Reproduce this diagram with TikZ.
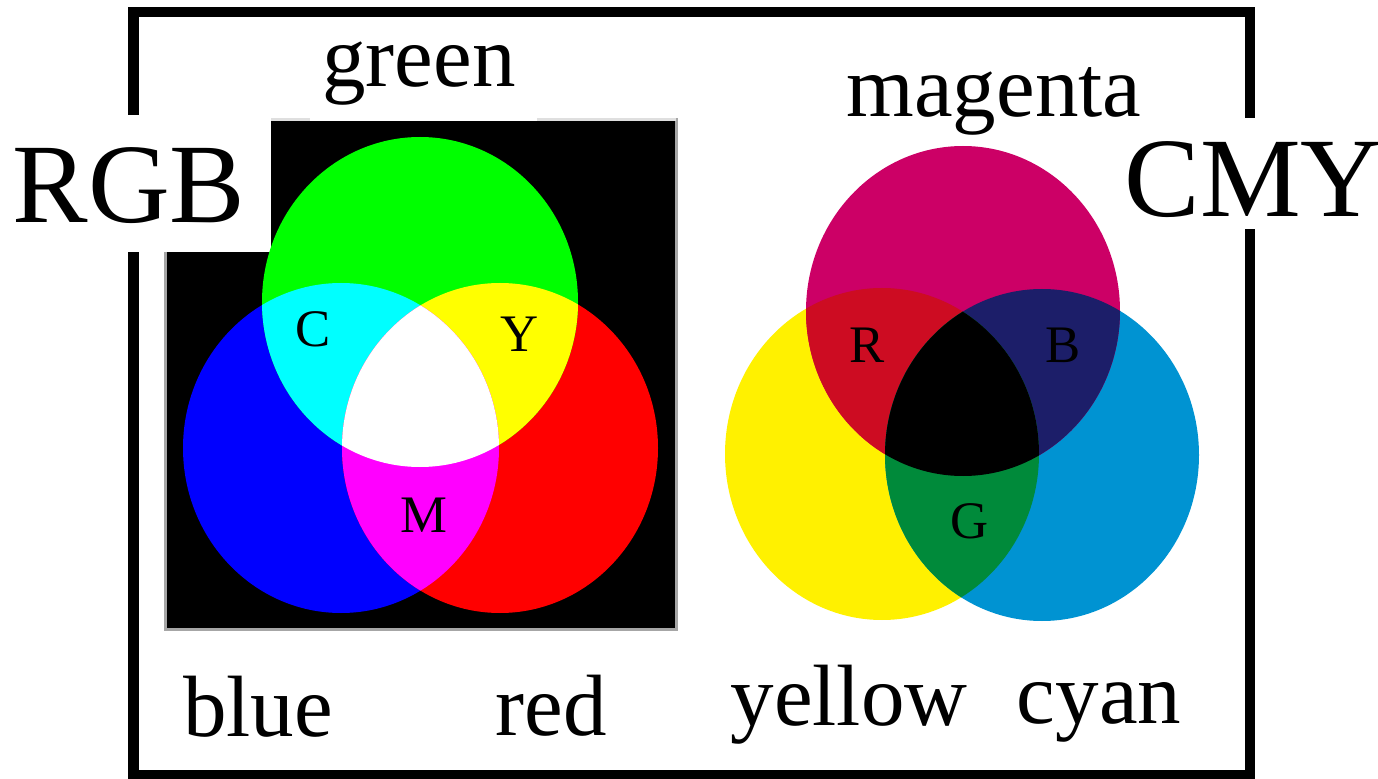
\documentclass[tikz,border=0pt]{standalone}
\usepackage{fontspec}
\setmainfont{Liberation Serif}
\definecolor{rgbgrn}{RGB}{0,255,0}
\definecolor{rgbblu}{RGB}{0,0,255}
\definecolor{rgbred}{RGB}{255,0,0}
\definecolor{rgbcya}{RGB}{0,255,255}
\definecolor{rgbyel}{RGB}{255,255,0}
\definecolor{rgbmag}{RGB}{255,0,255}
\definecolor{cmymag}{RGB}{204,0,102}
\definecolor{cmyyel}{RGB}{255,241,0}
\definecolor{cmycya}{RGB}{0,147,210}
\definecolor{cmyred}{RGB}{205,12,34}
\definecolor{cmyblu}{RGB}{28,30,105}
\definecolor{cmygrn}{RGB}{0,138,58}
\newcommand{\greendisc}{(420,302) ellipse [x radius=158, y radius=165]}
\newcommand{\bluedisc}{(341,448) ellipse [x radius=158, y radius=165]}
\newcommand{\reddisc}{(500,448) ellipse [x radius=158, y radius=165]}
\newcommand{\magdisc}{(963,311) ellipse [x radius=157, y radius=165]}
\newcommand{\yeldisc}{(882,454) ellipse [x radius=157, y radius=166]}
\newcommand{\cyadisc}{(1042,455) ellipse [x radius=157, y radius=166]}
\tikzset{
  colorword/.style={anchor=base, inner sep=0pt, font=\fontsize{24.75}{30}\selectfont},
  title/.style={anchor=base, inner sep=0pt, font=\fontsize{32.2}{38}\selectfont},
  mixword/.style={anchor=base, inner sep=0pt, font=\fontsize{15}{18}\selectfont}
}

\begin{document}
\begin{tikzpicture}[x=0.01cm, y=-0.01cm]
        \useasboundingbox (0,0) rectangle (1378,779);
        \draw[line width=0.1cm] (133.5,12.5) rectangle (1250,775);
        % black panel behind the additive circles
        \fill[black] (165,120) rectangle (676,629);
        \draw[gray!70, line width=0.03cm] (165,120) rectangle (676,629);
        \draw[gray!25, line width=0.03cm] (165,120) -- (676,120);
        \fill[white] (0,115) rectangle (271,252);
        \fill[white] (310,20) rectangle (537,121.5);
        \fill[white] (1120,118) rectangle (1378,229);

        % RGB
        \fill[rgbblu] \bluedisc;
        \fill[rgbred] \reddisc;
        \fill[rgbgrn] \greendisc;
        \begin{scope} \clip \greendisc; \fill[rgbcya] \bluedisc; \end{scope}
        \begin{scope} \clip \greendisc; \fill[rgbyel] \reddisc; \end{scope}
        \begin{scope} \clip \bluedisc; \fill[rgbmag] \reddisc; \end{scope}
        \begin{scope} \clip \greendisc; \clip \bluedisc; \fill[white] \reddisc; \end{scope}

        % CMY
        \fill[cmyyel] \yeldisc;
        \fill[cmycya] \cyadisc;
        \fill[cmymag] \magdisc;
        \begin{scope} \clip \magdisc; \fill[cmyred] \yeldisc; \end{scope}
        \begin{scope} \clip \magdisc; \fill[cmyblu] \cyadisc; \end{scope}
        \begin{scope} \clip \yeldisc; \fill[cmygrn] \cyadisc; \end{scope}
        \begin{scope} \clip \magdisc; \clip \yeldisc; \fill[black] \cyadisc; \end{scope}

        \node[title] (rgb) at (129,223) {RGB};
        \node[title, anchor=base west] (cmy) at (1124,217) {CMY};
        \node[colorword] (green) at (419,87) {green};
        \node[colorword] (blue) at (258,736) {blue};
        \node[colorword] (red) at (551,735) {red};
        \node[colorword] (magenta) at (994,117) {magenta};
        \node[colorword] (yellow) at (849,725) {yellow};
        \node[colorword] (cyan) at (1099,723) {cyan};

        \node[mixword] (c) at (313,347) {C};
        \node[mixword] (y) at (520,352) {Y};
        \node[mixword] (m) at (424,532) {M};
        \node[mixword] (r) at (867,363) {R};
        \node[mixword] (b) at (1063,363) {B};
        \node[mixword] (g) at (970,538) {G};
\end{tikzpicture}
\end{document}
